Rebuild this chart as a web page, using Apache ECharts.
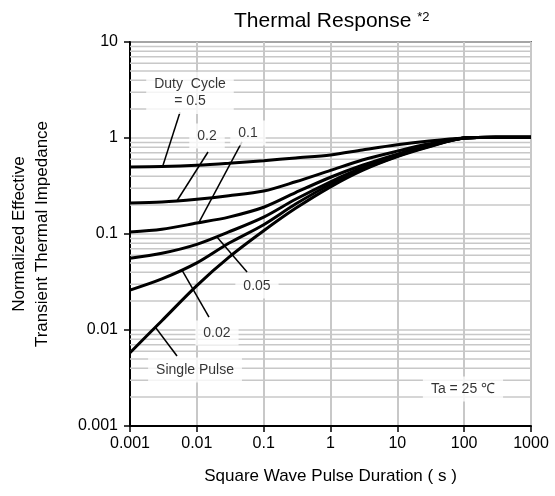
<!DOCTYPE html>
<html>
<head>
<meta charset="utf-8">
<script src="https://cdn.jsdelivr.net/npm/echarts@6/dist/echarts.min.js"></script>
<style>html,body{margin:0;padding:0;background:#fff}#c{width:555px;height:496px}</style>
</head>
<body>
<div id="c"></div>
<script>
// Square wave pulse duration (s)
const pulseDur = [0.001, 0.003, 0.01, 0.03, 0.1, 0.3, 1, 3, 10, 30, 100, 300, 1000];
// Normalized effective transient thermal impedance per duty cycle
const zD05    = [0.50, 0.505, 0.52, 0.545, 0.58, 0.62, 0.665, 0.75, 0.85, 0.93, 1.0, 1.02, 1.02];
const zD02    = [0.21, 0.215, 0.23, 0.25, 0.28, 0.35, 0.46, 0.59, 0.73, 0.87, 1.0, 1.02, 1.02];
const zD01    = [0.105, 0.112, 0.13, 0.15, 0.19, 0.27, 0.39, 0.52, 0.68, 0.84, 1.0, 1.02, 1.02];
const zD005   = [0.056, 0.063, 0.078, 0.105, 0.15, 0.23, 0.35, 0.49, 0.66, 0.83, 1.0, 1.02, 1.02];
const zD002   = [0.026, 0.034, 0.05, 0.08, 0.125, 0.205, 0.33, 0.47, 0.65, 0.82, 1.0, 1.02, 1.02];
const zSingle = [0.0058, 0.0125, 0.029, 0.057, 0.108, 0.185, 0.31, 0.46, 0.64, 0.81, 1.0, 1.02, 1.02];
const curves = [zD05, zD02, zD01, zD005, zD002, zSingle];
const curveNames = ['0.5', '0.2', '0.1', '0.05', '0.02', 'Single Pulse'];

// Axis ticks
const xTickLabels = ['0.001', '0.01', '0.1', '1', '10', '100', '1000'];
const yTickLabels = ['0.001', '0.01', '0.1', '1', '10'];
const minorMult = [2, 3, 4, 5, 6, 7, 8, 9];
const yDecades = [0.001, 0.01, 0.1, 1];

// Annotation labels: [x, y, text]
const annoLabels = [
  [0.0079, 2.94, 'Duty  Cycle\n= 0.5'],
  [0.0142, 1.05, '0.2'],
  [0.0583, 1.13, '0.1'],
  [0.0794, 0.0287, '0.05'],
  [0.02, 0.0093, '0.02'],
  [0.0094, 0.00383, 'Single Pulse'],
  [96, 0.00243, 'Ta = 25 ℃']
];
// Leader lines: [x1, y1, x2, y2]
const leaders = [
  [0.0056, 1.85, 0.00312, 0.52],
  [0.0147, 0.715, 0.00505, 0.222],
  [0.0474, 0.91, 0.01076, 0.132],
  [0.0564, 0.0402, 0.02, 0.093],
  [0.0152, 0.01365, 0.006, 0.042],
  [0.00505, 0.00536, 0.00237, 0.0108]
];

const FONT = 'Liberation Sans, Arial, sans-serif';
const fmt = v => String(Number(v.toPrecision(3)));

const series = [];
// minor horizontal grid lines (2..9 within each decade)
yDecades.forEach(d => minorMult.forEach(m => {
  const v = Number((d * m).toPrecision(3));
  series.push({
    type: 'line', z: 1, silent: true, showSymbol: false,
    lineStyle: { color: '#c8c8c8', width: 1.5 },
    data: [[0.001, v], [1000, v]]
  });
}));
curves.forEach((c, i) => {
  series.push({
    name: curveNames[i], type: 'line', z: 4, showSymbol: false, smooth: 0.3,
    lineStyle: { color: '#000', width: 3 },
    data: pulseDur.map((x, j) => [x, c[j]])
  });
});
leaders.forEach(l => {
  series.push({
    type: 'line', z: 5, showSymbol: false, silent: true,
    lineStyle: { color: '#000', width: 1.5 },
    data: [[l[0], l[1]], [l[2], l[3]]]
  });
});
series.push({
  type: 'scatter', z: 6, symbolSize: 0, silent: true,
  data: annoLabels.map(a => ({ value: [a[0], a[1]], name: a[2] })),
  label: {
    show: true, position: 'inside', formatter: '{b}', color: '#000',
    fontFamily: FONT, fontSize: 14, lineHeight: 17,
    backgroundColor: '#fff', padding: [4, 8]
  }
});

const chart = echarts.init(document.getElementById('c'), null, { renderer: 'canvas' });
chart.setOption({
  animation: false,
  backgroundColor: '#fff',
  title: {
    text: '{a|Thermal Response }{b|*2}',
    left: 229, top: 6,
    textStyle: {
      rich: {
        a: { fontFamily: FONT, fontSize: 21, fontWeight: 'normal', color: '#000' },
        b: { fontFamily: FONT, fontSize: 13, fontWeight: 'normal', color: '#000', verticalAlign: 'top', padding: [0, 0, 8, 0] }
      }
    }
  },
  grid: { left: 130, right: 24, top: 42, bottom: 70, show: true, borderColor: '#000', borderWidth: 1.5 },
  xAxis: {
    type: 'log', logBase: 10, min: 0.001, max: 1000,
    name: 'Square Wave Pulse Duration ( s )', nameLocation: 'middle', nameGap: 42,
    nameTextStyle: { fontFamily: FONT, fontSize: 17, color: '#000' },
    axisLine: { lineStyle: { color: '#000', width: 2 } },
    axisTick: { show: true, inside: false, length: 6, lineStyle: { color: '#000', width: 1.5 } },
    axisLabel: { fontFamily: FONT, fontSize: 16, color: '#000', margin: 10, formatter: v => fmt(v) },
    splitLine: { show: true, lineStyle: { color: '#c8c8c8', width: 2 } },
    minorTick: { show: false }
  },
  yAxis: {
    type: 'log', logBase: 10, min: 0.001, max: 10,
    name: 'Normalized Effective\nTransient Thermal Impedance', nameLocation: 'middle', nameGap: 76, nameRotate: 90,
    nameTextStyle: { fontFamily: FONT, fontSize: 17, color: '#000', lineHeight: 23 },
    axisLine: { lineStyle: { color: '#000', width: 2 } },
    axisTick: { show: true, inside: false, length: 6, lineStyle: { color: '#000', width: 1.5 } },
    axisLabel: { fontFamily: FONT, fontSize: 16, color: '#000', margin: 12, formatter: v => fmt(v) },
    splitLine: { show: true, lineStyle: { color: '#c8c8c8', width: 1.5 } }
  },
  series: series
});
</script>
</body>
</html>
